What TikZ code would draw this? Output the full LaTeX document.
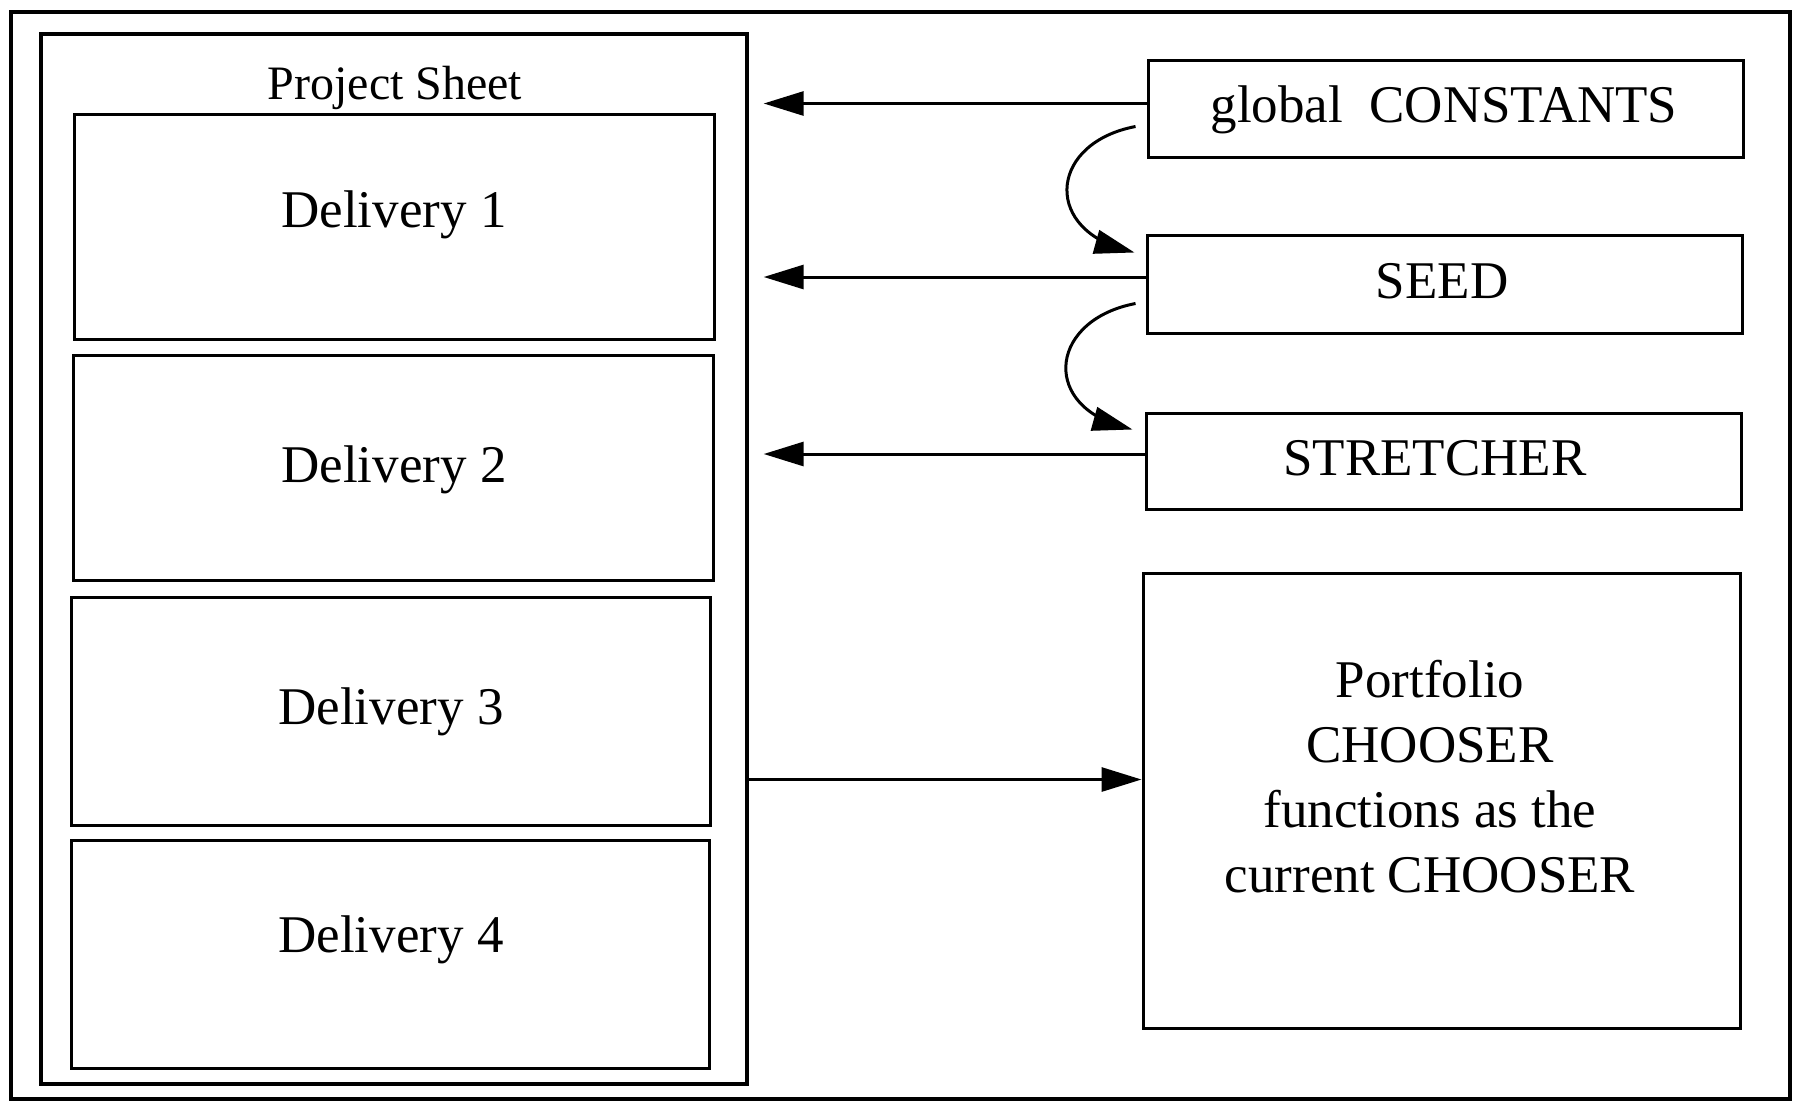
\documentclass[tikz,border=0pt]{standalone}
\usepackage{fontspec}
\setmainfont{Liberation Serif}
\usetikzlibrary{arrows.meta,calc}
\begin{document}
\begin{tikzpicture}[x=0.5pt,y=-0.5pt,
  frame/.style={draw,line width=1.7pt,inner sep=0pt},
  box/.style={draw,line width=1.5pt,inner sep=0pt},
  lbl/.style={inner sep=0pt,align=center,font=\fontsize{26.5}{32.5}\selectfont},
  link/.style={line width=1.5pt},
  tip/.style={line width=1.5pt,-{Triangle[length=20pt,width=12pt]}},
  arr/.style={tip}]
\useasboundingbox (0,0) rectangle (1797,1104);
% outer frame and project sheet
\draw[line width=1.7pt] (11,12) rectangle (1790,1099);
\node[frame,minimum width=353pt,minimum height=525pt] (ps) at (394,559) {};
\node[inner sep=0pt,font=\fontsize{24}{28}\selectfont] (pst) at (395,88) {Project Sheet};
% deliveries
\node[box,minimum width=320pt,minimum height=112.5pt] (d1) at (394,227) {};
\node[box,minimum width=320pt,minimum height=112.5pt] (d2) at (393,468) {};
\node[box,minimum width=319.5pt,minimum height=114pt] (d3) at (391,711) {};
\node[box,minimum width=319pt,minimum height=114pt] (d4) at (390,954) {};
\node[lbl] (d1t) at (394,215) {Delivery 1};
\node[lbl] (d2t) at (394,470) {Delivery 2};
\node[lbl] (d3t) at (391,712) {Delivery 3};
\node[lbl] (d4t) at (391,940) {Delivery 4};
% right-hand components
\node[box,minimum width=297.5pt,minimum height=48.5pt] (gc) at (1445.5,108.5) {};
\node[box,minimum width=297.5pt,minimum height=49pt] (sd) at (1444.5,284) {};
\node[box,minimum width=297.5pt,minimum height=48pt] (st) at (1443.5,461) {};
\node[box,minimum width=298.5pt,minimum height=227.5pt] (ch) at (1441.5,800.5) {};
\node[lbl] (gct) at (1444,110) {global\ \ CONSTANTS};
\node[lbl] (sdt) at (1442,281) {SEED};
\node[lbl] (stt) at (1435,458) {STRETCHER};
\node[lbl] (cht) at (1430,777) {Portfolio\\CHOOSER\\functions as the\\current CHOOSER};
% value flows into the project sheet
\draw[arr,shorten >=7.5pt] ([yshift=2.5pt]gc.west) -- ([yshift=2.5pt]gc.west -| ps.east);
\draw[arr,shorten >=7.5pt] ([yshift=3.5pt]sd.west) -- ([yshift=3.5pt]sd.west -| ps.east);
\draw[arr,shorten >=7.5pt] ([yshift=3.5pt]st.west) -- ([yshift=3.5pt]st.west -| ps.east);
\coordinate (chin) at ($(ch.west)+(0,-21)$);
\draw[arr] (chin -| ps.east) -- (chin);
% chaining between the components: curve first, tip laid on its end
\coordinate (c1s) at ($(gc.south west)+(-11,-32)$);
\coordinate (c1e) at ($(sd.north west)+(-11,19)$);
\coordinate (c2s) at ($(sd.south west)+(-10,-31)$);
\coordinate (c2e) at ($(st.north west)+(-12,18)$);
\draw[link] (c1s) .. controls +(-84,16) and +(-78,-24) .. ($(c1e)+(-14,-4)$);
\draw[tip] ($(c1e)+(-15,-4.15)$) -- (c1e);
\draw[link] (c2s) .. controls +(-84,16) and +(-78,-24) .. ($(c2e)+(-14,-4)$);
\draw[tip] ($(c2e)+(-15,-4.15)$) -- (c2e);
\end{tikzpicture}
\end{document}
